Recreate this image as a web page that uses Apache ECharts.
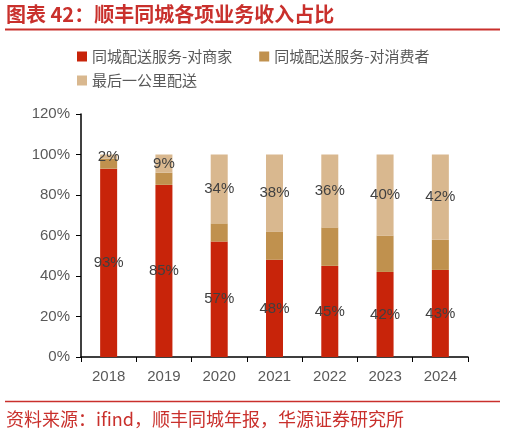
<!DOCTYPE html>
<html>
<head>
<meta charset="utf-8">
<script src="https://cdn.jsdelivr.net/npm/echarts@6/dist/echarts.min.js"></script>
<style>
  html, body { margin: 0; padding: 0; background: #fff; }
  #chart { width: 506px; height: 434px; }
</style>
</head>
<body>
<div id="chart"></div>
<script>
// 顺丰同城各项业务收入占比（%）
const years = ['2018', '2019', '2020', '2021', '2022', '2023', '2024'];
const merchant = [93, 85, 57, 48, 45, 42, 43];     // 同城配送服务-对商家
const consumer = [5, 6, 9, 14, 19, 18, 15];        // 同城配送服务-对消费者
const lastMile = [2, 9, 34, 38, 36, 40, 42];       // 最后一公里配送
const yTicks = [0, 20, 40, 60, 80, 100, 120];

const RED = '#c9302c';
const CJK = '"Noto Sans CJK SC", "Noto Sans", sans-serif';
const LAT = '"Liberation Sans", Arial, sans-serif';

const chart = echarts.init(document.getElementById('chart'));

const barLabel = {
  show: true, position: 'inside', color: '#404040',
  fontFamily: LAT, fontSize: 15,
  formatter: p => p.value + '%'
};

chart.setOption({
  animation: false,
  textStyle: { fontFamily: LAT },
  grid: { left: 81, right: 38, top: 114, bottom: 77 },
  legend: [
    {
      left: 72, top: 44, itemWidth: 10, itemHeight: 10, itemGap: 27,
      icon: 'rect',
      textStyle: { fontFamily: CJK, fontSize: 15, color: '#595959' },
      data: ['同城配送服务-对商家', '同城配送服务-对消费者']
    },
    {
      left: 72, top: 68, itemWidth: 10, itemHeight: 10,
      icon: 'rect',
      textStyle: { fontFamily: CJK, fontSize: 15, color: '#595959' },
      data: ['最后一公里配送']
    }
  ],
  xAxis: {
    type: 'category', data: years,
    axisLine: { lineStyle: { color: '#000', width: 1.5 } },
    axisTick: { show: true, length: 5, alignWithLabel: false, lineStyle: { color: '#000' } },
    axisLabel: { color: '#595959', fontSize: 15, margin: 12 }
  },
  yAxis: {
    type: 'value', min: yTicks[0], max: yTicks[yTicks.length - 1], interval: 20,
    axisLine: { show: true, lineStyle: { color: '#000', width: 1.5 } },
    axisTick: { show: true, length: 5, lineStyle: { color: '#000' } },
    splitLine: { show: false },
    axisLabel: { color: '#595959', fontSize: 15, margin: 11, formatter: v => v + '%' }
  },
  series: [
    {
      name: '同城配送服务-对商家', type: 'bar', stack: 'total', barWidth: 17,
      itemStyle: { color: '#c8240a' }, label: barLabel, data: merchant
    },
    {
      name: '同城配送服务-对消费者', type: 'bar', stack: 'total', barWidth: 17,
      itemStyle: { color: '#c0914e' }, data: consumer
    },
    {
      name: '最后一公里配送', type: 'bar', stack: 'total', barWidth: 17,
      itemStyle: { color: '#d9b88f' }, label: barLabel, data: lastMile
    }
  ],
  graphic: [
    {
      type: 'text', left: 6, top: 4,
      style: { text: '图表 42：顺丰同城各项业务收入占比', fill: RED,
        font: 'bold 20px ' + CJK }
    },
    {
      type: 'line', shape: { x1: 5, y1: 29.5, x2: 500, y2: 29.5 },
      style: { stroke: RED, lineWidth: 2 }
    },
    {
      type: 'line', shape: { x1: 5, y1: 401.5, x2: 500, y2: 401.5 },
      style: { stroke: RED, lineWidth: 1.5 }
    },
    {
      type: 'text', left: 6, top: 410,
      style: { text: '资料来源：ifind，顺丰同城年报，华源证券研究所', fill: RED,
        font: '18px ' + CJK }
    }
  ]
});
</script>
</body>
</html>
